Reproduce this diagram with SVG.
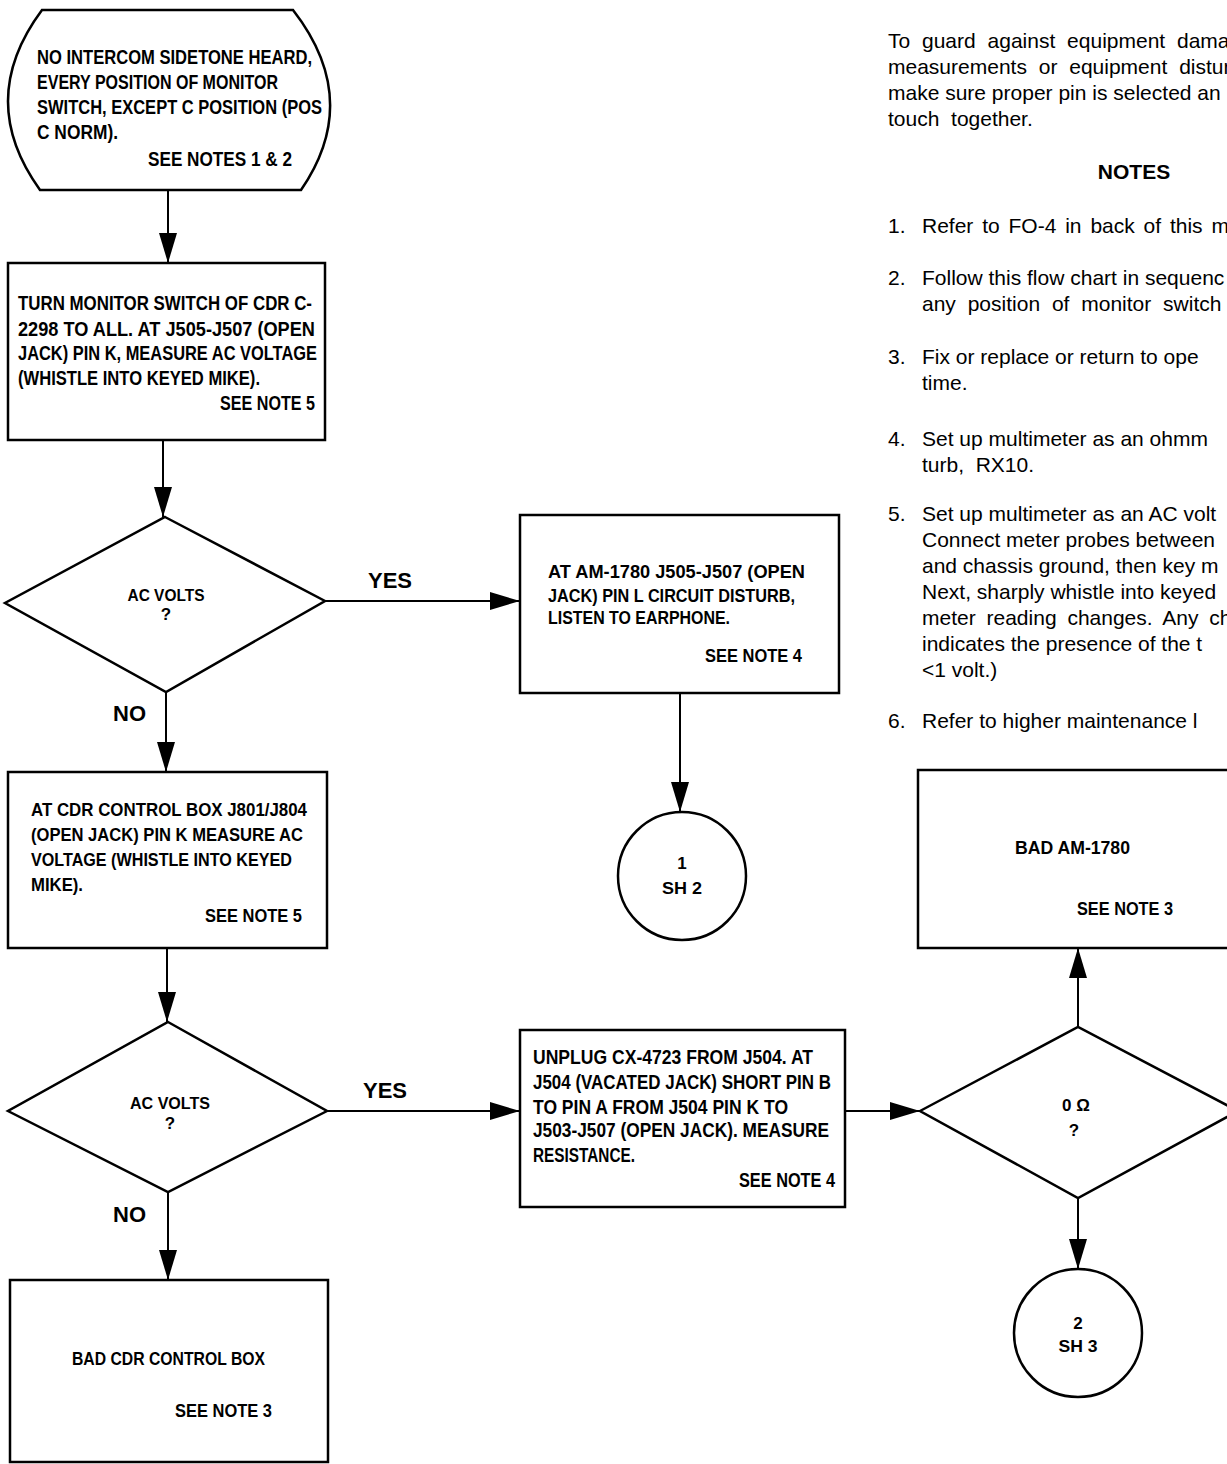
<svg xmlns="http://www.w3.org/2000/svg" width="1227" height="1464" viewBox="0 0 1227 1464">
<style>
.b{fill:#fff;stroke:#000;stroke-width:2.5}
.ln{fill:none;stroke:#000;stroke-width:2;marker-end:url(#ah)}
.c{font-family:"Liberation Sans",Arial,sans-serif;font-weight:bold;fill:#000}
.m{text-anchor:middle}
.s22{font-size:22px}.s21{font-size:21px}.s20{font-size:20px}.s19{font-size:19px}.s18{font-size:17.5px}.s17{font-size:17px}
.n{font-family:"Liberation Sans",Arial,sans-serif;font-size:21px;fill:#000}
.nb{font-family:"Liberation Sans",Arial,sans-serif;font-size:21px;font-weight:bold;fill:#000;text-anchor:middle}
</style>
<defs>
<marker id="ah" markerUnits="userSpaceOnUse" viewBox="0 0 30 20" markerWidth="30" markerHeight="20" refX="30" refY="10" orient="auto">
<path d="M0,1 L30,10 L0,19 Z" fill="#000"/>
</marker>
</defs>
<rect width="1227" height="1464" fill="#fff"/>

<g id="connectors">
<path class="ln" d="M168,190 V263"/>
<path class="ln" d="M163,440 V517"/>
<path class="ln" d="M325,601 H520"/>
<path class="ln" d="M166,692 V772"/>
<path class="ln" d="M680,693 V812"/>
<path class="ln" d="M167,948 V1022"/>
<path class="ln" d="M327,1111 H520"/>
<path class="ln" d="M168,1192 V1280"/>
<path class="ln" d="M845,1111 H920"/>
<path class="ln" d="M1078,1027 V948"/>
<path class="ln" d="M1078,1198 V1269"/>
<text class="c s22" x="368" y="588">YES</text>
<text class="c s22" x="113" y="721">NO</text>
<text class="c s22" x="363" y="1098">YES</text>
<text class="c s22" x="113" y="1222">NO</text>
</g>

<g id="start">
<path class="b" d="M42,10 L293,10 Q363,100 301,190 L40,190 Q-25,100 42,10 Z"/>
<text class="c s21" x="37" y="64" textLength="275" lengthAdjust="spacingAndGlyphs">NO INTERCOM SIDETONE HEARD,</text>
<text class="c s21" x="37" y="89" textLength="241" lengthAdjust="spacingAndGlyphs">EVERY POSITION OF MONITOR</text>
<text class="c s21" x="37" y="114" textLength="285" lengthAdjust="spacingAndGlyphs">SWITCH, EXCEPT C POSITION (POS</text>
<text class="c s21" x="37" y="139" textLength="81" lengthAdjust="spacingAndGlyphs">C NORM).</text>
<text class="c s21" x="148" y="166" textLength="144" lengthAdjust="spacingAndGlyphs">SEE NOTES 1 &amp; 2</text>
</g>

<g id="turn-monitor">
<rect class="b" x="8" y="263" width="317" height="177"/>
<text class="c s21" x="18" y="310" textLength="294" lengthAdjust="spacingAndGlyphs">TURN MONITOR SWITCH OF CDR C-</text>
<text class="c s21" x="18" y="336" textLength="297" lengthAdjust="spacingAndGlyphs">2298 TO ALL. AT J505-J507 (OPEN</text>
<text class="c s21" x="18" y="360" textLength="299" lengthAdjust="spacingAndGlyphs">JACK) PIN K, MEASURE AC VOLTAGE</text>
<text class="c s21" x="18" y="385" textLength="242" lengthAdjust="spacingAndGlyphs">(WHISTLE INTO KEYED MIKE).</text>
<text class="c s21" x="220" y="410" textLength="95" lengthAdjust="spacingAndGlyphs">SEE NOTE 5</text>
</g>

<g id="dec1">
<polygon class="b" points="165,517 325,601 166,692 5,603"/>
<text class="c s17 m" x="166" y="601" textLength="77" lengthAdjust="spacingAndGlyphs">AC VOLTS</text>
<text class="c s17 m" x="166" y="620">?</text>
</g>

<g id="am1780-listen">
<rect class="b" x="520" y="515" width="319" height="178"/>
<text class="c s18" x="548" y="578" textLength="257" lengthAdjust="spacingAndGlyphs">AT AM-1780 J505-J507 (OPEN</text>
<text class="c s18" x="548" y="602" textLength="247" lengthAdjust="spacingAndGlyphs">JACK) PIN L CIRCUIT DISTURB,</text>
<text class="c s18" x="548" y="624" textLength="182" lengthAdjust="spacingAndGlyphs">LISTEN TO EARPHONE.</text>
<text class="c s18" x="705" y="662" textLength="97" lengthAdjust="spacingAndGlyphs">SEE NOTE 4</text>
</g>

<g id="sh2">
<circle class="b" cx="682" cy="876" r="64"/>
<text class="c s17 m" x="682" y="869">1</text>
<text class="c s17 m" x="682" y="894" textLength="40" lengthAdjust="spacingAndGlyphs">SH 2</text>
</g>

<g id="cdr-control">
<rect class="b" x="8" y="772" width="319" height="176"/>
<text class="c s19" x="31" y="816" textLength="276" lengthAdjust="spacingAndGlyphs">AT CDR CONTROL BOX J801/J804</text>
<text class="c s19" x="31" y="841" textLength="272" lengthAdjust="spacingAndGlyphs">(OPEN JACK) PIN K MEASURE AC</text>
<text class="c s19" x="31" y="866" textLength="261" lengthAdjust="spacingAndGlyphs">VOLTAGE (WHISTLE INTO KEYED</text>
<text class="c s19" x="31" y="891" textLength="52" lengthAdjust="spacingAndGlyphs">MIKE).</text>
<text class="c s19" x="205" y="922" textLength="97" lengthAdjust="spacingAndGlyphs">SEE NOTE 5</text>
</g>

<g id="dec2">
<polygon class="b" points="168,1022 327,1111 168,1192 8,1111"/>
<text class="c s17 m" x="170" y="1109" textLength="80" lengthAdjust="spacingAndGlyphs">AC VOLTS</text>
<text class="c s17 m" x="170" y="1129">?</text>
</g>

<g id="bad-cdr">
<rect class="b" x="10" y="1280" width="318" height="182"/>
<text class="c s19" x="72" y="1365" textLength="193" lengthAdjust="spacingAndGlyphs">BAD CDR CONTROL BOX</text>
<text class="c s19" x="175" y="1417" textLength="97" lengthAdjust="spacingAndGlyphs">SEE NOTE 3</text>
</g>

<g id="unplug">
<rect class="b" x="520" y="1030" width="325" height="177"/>
<text class="c s20" x="533" y="1064" textLength="280" lengthAdjust="spacingAndGlyphs">UNPLUG CX-4723 FROM J504. AT</text>
<text class="c s20" x="533" y="1089" textLength="298" lengthAdjust="spacingAndGlyphs">J504 (VACATED JACK) SHORT PIN B</text>
<text class="c s20" x="533" y="1114" textLength="255" lengthAdjust="spacingAndGlyphs">TO PIN A FROM J504 PIN K TO</text>
<text class="c s20" x="533" y="1137" textLength="296" lengthAdjust="spacingAndGlyphs">J503-J507 (OPEN JACK). MEASURE</text>
<text class="c s20" x="533" y="1162" textLength="102" lengthAdjust="spacingAndGlyphs">RESISTANCE.</text>
<text class="c s20" x="739" y="1187" textLength="96" lengthAdjust="spacingAndGlyphs">SEE NOTE 4</text>
</g>

<g id="dec3">
<polygon class="b" points="920,1111 1078,1027 1238,1111 1078,1198"/>
<text class="c s17 m" x="1076" y="1111">0 Ω</text>
<text class="c s17 m" x="1074" y="1136">?</text>
</g>

<g id="bad-am1780">
<rect class="b" x="918" y="770" width="330" height="178"/>
<text class="c s19" x="1015" y="854" textLength="115" lengthAdjust="spacingAndGlyphs">BAD AM-1780</text>
<text class="c s19" x="1077" y="915" textLength="96" lengthAdjust="spacingAndGlyphs">SEE NOTE 3</text>
</g>

<g id="sh3">
<circle class="b" cx="1078" cy="1333" r="64"/>
<text class="c s17 m" x="1078" y="1329">2</text>
<text class="c s17 m" x="1078" y="1352" textLength="39" lengthAdjust="spacingAndGlyphs">SH 3</text>
</g>

<g id="notes">
<text class="n" x="888" y="48" word-spacing="6">To guard against equipment dama</text>
<text class="n" x="888" y="74" word-spacing="6">measurements or equipment distur</text>
<text class="n" x="888" y="100">make sure proper pin is selected an</text>
<text class="n" x="888" y="126" xml:space="preserve">touch  together.</text>
<text class="nb" x="1134" y="179">NOTES</text>
<text class="n" x="888" y="233">1.</text>
<text class="n" x="922" y="233" word-spacing="3">Refer to FO-4 in back of this m</text>
<text class="n" x="888" y="285">2.</text>
<text class="n" x="922" y="285">Follow this flow chart in sequenc</text>
<text class="n" x="922" y="311" word-spacing="6">any position of monitor switch c</text>
<text class="n" x="888" y="364">3.</text>
<text class="n" x="922" y="364">Fix or replace or return to ope</text>
<text class="n" x="922" y="390">time.</text>
<text class="n" x="888" y="446">4.</text>
<text class="n" x="922" y="446">Set up multimeter as an ohmm</text>
<text class="n" x="922" y="472" xml:space="preserve">turb,  RX10.</text>
<text class="n" x="888" y="521">5.</text>
<text class="n" x="922" y="521">Set up multimeter as an AC volt</text>
<text class="n" x="922" y="547">Connect meter probes between</text>
<text class="n" x="922" y="573">and chassis ground, then key m</text>
<text class="n" x="922" y="599">Next, sharply whistle into keyed</text>
<text class="n" x="922" y="625" word-spacing="5">meter reading changes. Any ch</text>
<text class="n" x="922" y="651">indicates the presence of the t</text>
<text class="n" x="922" y="677">&lt;1 volt.)</text>
<text class="n" x="888" y="728">6.</text>
<text class="n" x="922" y="728">Refer to higher maintenance l</text>
</g>
</svg>
